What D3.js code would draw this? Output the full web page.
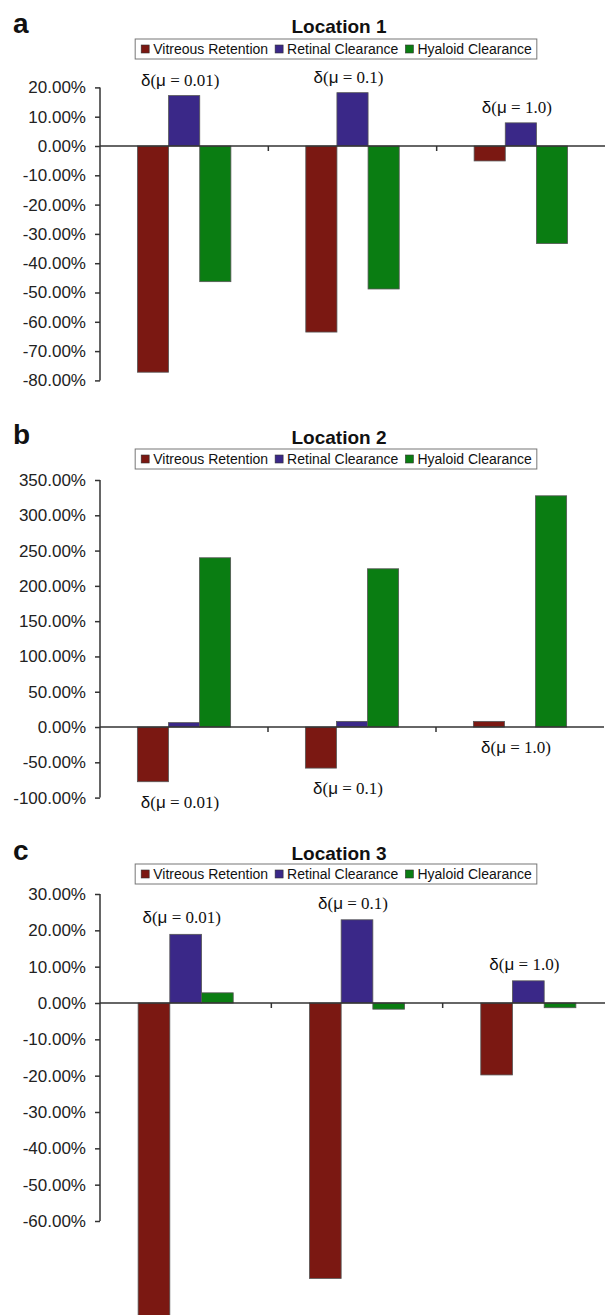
<!DOCTYPE html>
<html>
<head>
<meta charset="utf-8">
<script src="https://cdn.jsdelivr.net/npm/d3@7"></script>
<style>
  body { margin: 0; background: #fff; }
</style>
</head>
<body>
<script>
// data (percent change)
var categories = ["0.01", "0.1", "1.0"];
var series = ["Vitreous Retention", "Retinal Clearance", "Hyaloid Clearance"];
var colors = ["#7b1812", "#3a2888", "#0a7d12"];

var loc1Vitreous = [-77.2, -63.5, -5.1];
var loc1Retinal = [17.2, 18.2, 7.9];
var loc1Hyaloid = [-46.3, -48.8, -33.3];

var loc2Vitreous = [-77.5, -58.2, 8.0];
var loc2Retinal = [6.2, 8.0, 0.0];
var loc2Hyaloid = [239.8, 224.2, 327.6];

var loc3Vitreous = [-90.0, -75.8, -19.8];
var loc3Retinal = [18.9, 22.9, 6.1];
var loc3Hyaloid = [2.8, -1.7, -1.3];

var loc1Ticks = [-80, -70, -60, -50, -40, -30, -20, -10, 0, 10, 20];
var loc2Ticks = [-100, -50, 0, 50, 100, 150, 200, 250, 300, 350];
var loc3Ticks = [-60, -50, -40, -30, -20, -10, 0, 10, 20, 30];

var panels = [
  {letter: "a", title: "Location 1", values: [loc1Vitreous, loc1Retinal, loc1Hyaloid], ticks: loc1Ticks,
   top: 87.4, bottom: 380.4, right: 605, titleY: 33, legendY: 39, labelSide: "above", labelOff: 10},
  {letter: "b", title: "Location 2", values: [loc2Vitreous, loc2Retinal, loc2Hyaloid], ticks: loc2Ticks,
   top: 480, bottom: 797.6, right: 604, titleY: 444, legendY: 449, labelSide: "below", labelOff: 26},
  {letter: "c", title: "Location 3", values: [loc3Vitreous, loc3Retinal, loc3Hyaloid], ticks: loc3Ticks,
   top: 894, bottom: 1221, right: 614, titleY: 860, legendY: 864, labelSide: "above", labelOff: 11}
];

var width = 605, height = 1315, left = 100;
var sans = "'Liberation Sans', Arial, Helvetica, sans-serif";
var serif = "'Liberation Serif', 'Times New Roman', serif";

var svg = d3.select("body").append("svg")
    .attr("width", width)
    .attr("height", height);

panels.forEach(function(p) {
  var g = svg.append("g");
  var dom = d3.extent(p.ticks);

  var y = d3.scaleLinear().domain(dom).range([p.bottom, p.top]);
  var x = d3.scaleBand().domain(categories).range([left, p.right]);
  var bw = x.bandwidth() * 0.185;

  // panel letter and title
  g.append("text")
      .attr("x", 13).attr("y", p.titleY)
      .attr("font-family", sans).attr("font-weight", "bold").attr("font-size", 28)
      .attr("fill", "#111")
      .text(p.letter);

  g.append("text")
      .attr("x", 339).attr("y", p.titleY)
      .attr("text-anchor", "middle")
      .attr("font-family", sans).attr("font-weight", "bold").attr("font-size", 19)
      .attr("fill", "#111")
      .text(p.title);

  // legend
  var leg = g.append("g");
  var cx = 6;
  series.forEach(function(s, i) {
    leg.append("rect")
        .attr("x", cx).attr("y", 6)
        .attr("width", 8).attr("height", 8)
        .attr("fill", colors[i]).attr("stroke", "#333").attr("stroke-width", 0.6);
    var t = leg.append("text")
        .attr("x", cx + 12).attr("y", 15)
        .attr("font-family", sans).attr("font-size", 14)
        .attr("fill", "#111")
        .text(s);
    cx += 12 + t.node().getComputedTextLength() + 7;
  });
  var legW = cx - 7 + 5;
  leg.insert("rect", ":first-child")
      .attr("x", 0).attr("y", 0)
      .attr("width", legW).attr("height", 20)
      .attr("fill", "#fff").attr("stroke", "#777").attr("stroke-width", 1);
  leg.attr("transform", "translate(" + (336 - legW / 2) + "," + p.legendY + ")");

  // bars
  series.forEach(function(s, si) {
    g.selectAll(null)
      .data(categories)
      .enter().append("rect")
        .attr("x", function(c) { return x(c) + x.bandwidth() / 2 - 1.5 * bw + si * bw; })
        .attr("y", function(c, ci) { return y(Math.max(0, p.values[si][ci])); })
        .attr("width", bw)
        .attr("height", function(c, ci) { return Math.abs(y(p.values[si][ci]) - y(0)); })
        .attr("fill", colors[si])
        .attr("stroke", "#555")
        .attr("stroke-width", 0.8);
  });

  // y axis
  var yAxis = d3.axisLeft(y)
      .tickValues(p.ticks)
      .tickSize(5)
      .tickPadding(9)
      .tickFormat(function(d) { return d.toFixed(2) + "%"; });

  var ya = g.append("g")
      .attr("transform", "translate(" + left + ",0)")
      .call(yAxis);
  ya.select(".domain").attr("stroke", "#333").attr("stroke-width", 1.5)
      .attr("d", "M0," + y(dom[0]) + "V" + y(dom[1]));
  ya.selectAll(".tick line").attr("stroke", "#333").attr("stroke-width", 1.5);
  ya.selectAll(".tick text")
      .attr("font-family", sans).attr("font-size", 17).attr("fill", "#222");

  // zero line with category ticks
  var xAxis = d3.axisBottom(x).tickSize(0).tickFormat("");
  var xa = g.append("g")
      .attr("transform", "translate(0," + y(0) + ")")
      .call(xAxis);
  xa.select(".domain").attr("stroke", "#333").attr("stroke-width", 1.5)
      .attr("d", "M" + left + ",0H" + p.right);
  xa.selectAll(".tick").remove();
  categories.slice(1).forEach(function(c) {
    xa.append("line")
        .attr("x1", x(c)).attr("x2", x(c))
        .attr("y1", 0).attr("y2", 5)
        .attr("stroke", "#333").attr("stroke-width", 1.5);
  });

  // category labels
  categories.forEach(function(c, ci) {
    var vals = p.values.map(function(v) { return v[ci]; });
    var ly;
    if (p.labelSide == "above") {
      ly = y(Math.max(0, d3.max(vals))) - p.labelOff;
    } else {
      ly = y(Math.min(0, d3.min(vals))) + p.labelOff;
    }
    var t = g.append("text")
        .attr("x", x(c) + x.bandwidth() / 2 - 4)
        .attr("y", ly)
        .attr("text-anchor", "middle")
        .attr("font-size", 17)
        .attr("fill", "#111");
    t.append("tspan").attr("font-family", sans).text("δ");
    t.append("tspan").attr("font-family", serif).text("(");
    t.append("tspan").attr("font-family", sans).text("μ");
    t.append("tspan").attr("font-family", serif).text(" = " + c + ")");
  });
});
</script>
</body>
</html>
